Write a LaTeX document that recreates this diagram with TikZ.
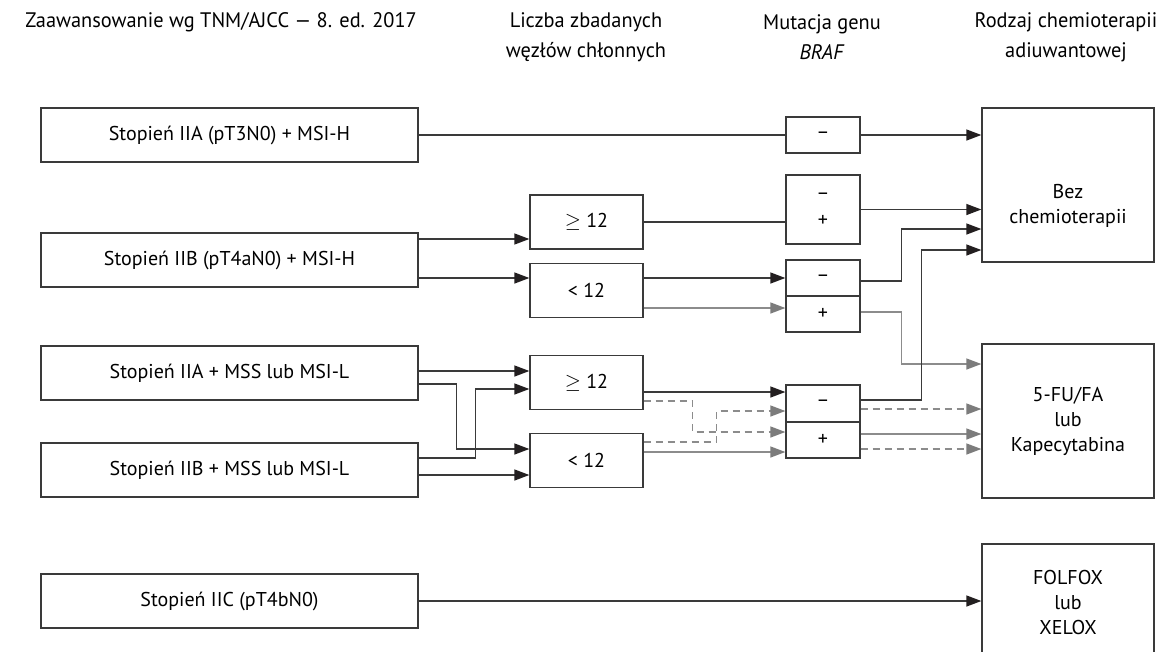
\documentclass[tikz,border=0pt]{standalone}
\usepackage{fontspec}
\setmainfont{PT Sans}
\usetikzlibrary{arrows.meta,calc}
\definecolor{dk}{HTML}{3A3A3A}
\definecolor{ah}{HTML}{231F20}
\definecolor{gy}{HTML}{8C8C8C}
\definecolor{gyh}{HTML}{7C7C7C}
\newcommand\fs{\fontsize{20}{25}\selectfont}
\newcommand\hs{\fontsize{21}{30}\selectfont}
\begin{document}
\begin{tikzpicture}[x=1pt,y=-1pt,
  box/.style={draw=dk, line width=1.3pt, inner sep=0pt, font=\fs, align=center},
  stage/.style={box, minimum width=377pt, minimum height=54pt},
  cnt/.style={box, minimum width=113pt, minimum height=54pt},
  braf/.style={box, minimum width=74pt},
  endbox/.style={box, minimum width=172pt},
  hdr/.style={font=\hs, align=center, transform shape, xscale=0.97},
  dkl/.style={draw=dk, line width=1.3pt},
  dka/.style={dkl, -{Triangle[length=15pt,width=11pt,color=ah]}},
  gyl/.style={draw=gy, line width=1.3pt},
  gya/.style={gyl, -{Triangle[length=15pt,width=11pt,color=gyh]}},
  dsa/.style={gya, dash pattern=on 7pt off 5pt}
]
\useasboundingbox[fill=white] (0,0) rectangle (1170,651);

% headers
\node[hdr] (h1) at (221,22) {Zaawansowanie wg TNM/AJCC — 8. ed. 2017};
\node[hdr] (h2) at (586,37) {Liczba zbadanych\\węzłów chłonnych};
\node[hdr] (h3) at (822,37) {Mutacja genu\\\textit{BRAF}};
\node[hdr] (h4) at (1066,37) {Rodzaj chemioterapii\\adiuwantowej};

% stage boxes
\node[stage] (s1) at (229.5,135) {Stopień IIA (pT3N0) + MSI-H};
\node[stage] (s2) at (229.5,260) {Stopień IIB (pT4aN0) + MSI-H};
\node[stage] (s3) at (229.5,373) {Stopień IIA + MSS lub MSI-L};
\node[stage] (s4) at (229.5,470) {Stopień IIB + MSS lub MSI-L};
\node[stage] (s5) at (229.5,601) {Stopień IIC (pT4bN0)};

% lymph node count boxes
\node[cnt] (c1) at (586.5,222) {$\geq$ 12};
\node[cnt] (c2) at (586.5,290.5) {< 12};
\node[cnt] (c3) at (586.5,382.5) {$\geq$ 12};
\node[cnt] (c4) at (586.5,460.5) {< 12};

% BRAF boxes
\node[braf, minimum height=36pt] (b0) at (823,135) {–};
\node[braf, minimum height=69pt] (b1) at (823,209.5) {–\\[2pt]+};
\node[braf, minimum height=36pt] (b2m) at (823,278) {–};
\node[braf, minimum height=36pt] (b2p) at (823,314) {+};
\node[braf, minimum height=37pt] (b3m) at (823,403.5) {–};
\node[braf, minimum height=36pt] (b3p) at (823,440) {+};

% end boxes
\node[endbox, minimum height=154pt] (bez) at (1068,185) {};
\node[font=\fs, align=center] (bezt) at (1068,206) {Bez\\chemioterapii};
\node[endbox, minimum height=154pt] (fu) at (1068,421) {5-FU/FA\\lub\\Kapecytabina};
\node[endbox, minimum height=116pt] (fol) at (1068,602) {FOLFOX\\lub\\XELOX};

% row 1
\draw[dkl] (s1.east) -- (b0.west);
\draw[dka] (b0.east) -- (b0.east -| bez.west);

% row 2
\draw[dka] ([yshift=21pt]s2.east) -- ([yshift=21pt]s2.east -| c1.west);
\draw[dka] ([yshift=-18pt]s2.east) -- ([yshift=-18pt]s2.east -| c2.west);
\draw[dkl] (c1.east) -- (c1.east -| b1.west);
\draw[dka] (b1.east) -- (b1.east -| bez.west);
\draw[dka] ([yshift=12.5pt]c2.east) -- ([yshift=12.5pt]c2.east -| b2m.west);
\draw[gya] ([yshift=-17.5pt]c2.east) -- ([yshift=-17.5pt]c2.east -| b2p.west);
\draw[dka] ([yshift=-3pt]b2m.east) -| ([xshift=-80pt,yshift=-44pt]bez.west) -- ([yshift=-44pt]bez.west);
\draw[gya] ([yshift=2pt]b2p.east) -| ([xshift=-80pt,yshift=57pt]fu.west) -- ([yshift=57pt]fu.west);

% rows 3-4
\draw[dka] ([yshift=2pt]s3.east) -- ([yshift=2pt]s3.east -| c3.west);
\draw[dka] ([yshift=-11pt]s3.east) -- ++(38,0) |- ([yshift=11.5pt]c4.west);
\draw[dka] ([yshift=12pt]s4.east) -- ++(57,0) |- ([yshift=-6.5pt]c3.west);
\draw[dka] ([yshift=-5pt]s4.east) -- ([yshift=-5pt]s4.east -| c4.west);

\draw[dka] ([yshift=-9.5pt]c3.east) -- ([yshift=-9.5pt]c3.east -| b3m.west);
\draw[dsa] ([yshift=-18.5pt]c3.east) -- ++(49,0) |- ([yshift=8pt]b3p.west);
\draw[dsa] ([yshift=18.5pt]c4.east) -- ++(73,0) |- ([yshift=-7.5pt]b3m.west);
\draw[gya] ([yshift=8.5pt]c4.east) -- ([yshift=8.5pt]c4.east -| b3p.west);

\draw[dka] ([yshift=3.5pt]b3m.east) -| ([xshift=-60pt,yshift=-65pt]bez.west) -- ([yshift=-65pt]bez.west);
\draw[dsa] ([yshift=-5.5pt]b3m.east) -- ([yshift=-5.5pt]b3m.east -| fu.west);
\draw[gya] ([yshift=6pt]b3p.east) -- ([yshift=6pt]b3p.east -| fu.west);
\draw[dsa] ([yshift=-9pt]b3p.east) -- ([yshift=-9pt]b3p.east -| fu.west);

% row 5
\draw[dka] (s5.east) -- (s5.east -| fol.west);
\end{tikzpicture}
\end{document}
